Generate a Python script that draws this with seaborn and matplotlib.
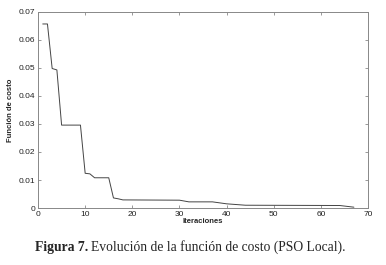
import matplotlib
matplotlib.use("Agg")

import matplotlib.pyplot as plt
import pandas as pd
import seaborn as sns

# Puntos de quiebre (iteración, costo)
iteraciones = [1, 2, 3, 4, 5, 9, 10, 11, 12, 15, 16, 17, 18, 30, 32, 37, 40, 44, 64, 67]
costo = [0.0657, 0.0657, 0.0498, 0.0493, 0.0296, 0.0296, 0.0124, 0.0122, 0.0108, 0.0108,
         0.0036, 0.0033, 0.0029, 0.0028, 0.0022, 0.0022, 0.0015, 0.0010, 0.0009, 0.0003]

x_ticks = [0, 10, 20, 30, 40, 50, 60, 70]
y_ticks = [0, 0.01, 0.02, 0.03, 0.04, 0.05, 0.06, 0.07]
y_labels = ["0", "0.01", "0.02", "0.03", "0.04", "0.05", "0.06", "0.07"]

df = pd.DataFrame({"Iteraciones": iteraciones, "Costo": costo})

sns.set_style("white")
plt.rcParams["font.family"] = ["Liberation Sans", "DejaVu Sans"]

fig = plt.figure(figsize=(3.86, 2.65), dpi=100)
ax = fig.add_axes([0.0985, 0.215, 0.855, 0.74])

sns.lineplot(data=df, x="Iteraciones", y="Costo", sort=False, estimator=None,
             color="#444444", linewidth=0.7, ax=ax)

ax.set_xlim(0, 70)
ax.set_ylim(0, 0.07)
ax.set_xticks(x_ticks)
ax.set_yticks(y_ticks)
ax.set_yticklabels(y_labels)
ax.tick_params(direction="in", length=2.5, width=0.6, labelsize=6,
               colors="#888888", labelcolor="#222222", pad=2,
               top=True, right=True, bottom=True, left=True)
for s in ax.spines.values():
    s.set_color("#888888")
    s.set_linewidth(0.7)

ax.set_xlabel("Iteraciones", fontsize=5.5, fontweight="bold", labelpad=0.5)
ax.set_ylabel("Función de costo", fontsize=5.5, fontweight="bold", labelpad=3)

# Pie de figura
fig.canvas.draw()
r = fig.canvas.get_renderer()
t1 = fig.text(0.09, 0.052, "Figura 7.", fontsize=9.8, fontweight="bold",
              family=["Liberation Serif"], va="baseline")
bb = t1.get_window_extent(renderer=r)
x2 = (bb.x1 + 3) / fig.bbox.width
fig.text(x2, 0.052, "Evolución de la función de costo (PSO Local).", fontsize=9.8,
         family=["Liberation Serif"], va="baseline")

fig.savefig("out.png", dpi=100)
plt.close()
